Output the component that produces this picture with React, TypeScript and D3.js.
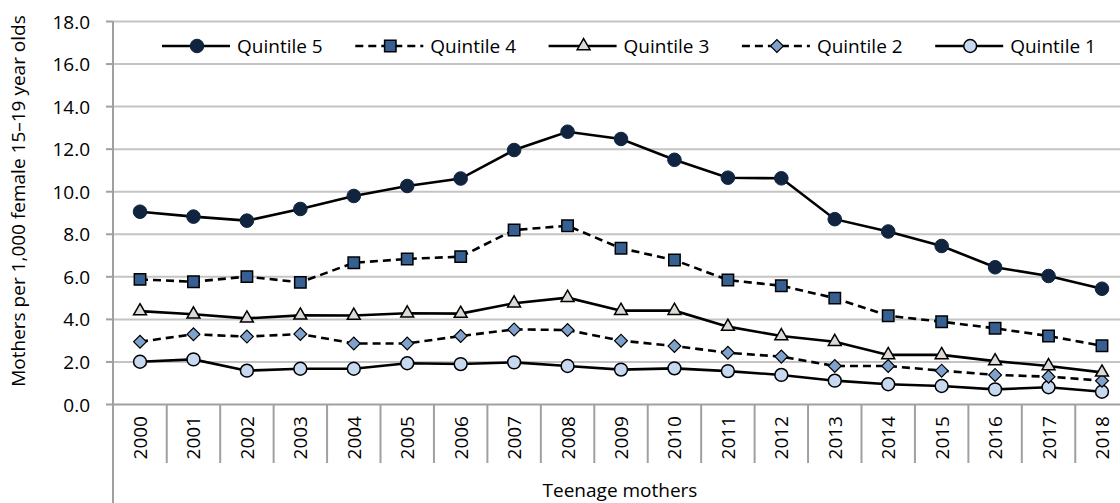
import React from 'react';
import * as d3 from 'd3';

const years = ['2000','2001','2002','2003','2004','2005','2006','2007','2008','2009','2010','2011','2012','2013','2014','2015','2016','2017','2018'];
const q5 = [9.06, 8.83, 8.64, 9.19, 9.80, 10.27, 10.62, 11.96, 12.82, 12.48, 11.5, 10.66, 10.63, 8.71, 8.13, 7.45, 6.45, 6.04, 5.44];
const q4 = [5.88, 5.77, 6.01, 5.74, 6.66, 6.84, 6.95, 8.20, 8.40, 7.34, 6.79, 5.85, 5.58, 5.0, 4.17, 3.89, 3.58, 3.22, 2.76];
const q3 = [4.39, 4.24, 4.05, 4.19, 4.18, 4.29, 4.27, 4.76, 5.02, 4.41, 4.41, 3.66, 3.22, 2.95, 2.33, 2.33, 2.04, 1.81, 1.51];
const q2 = [2.95, 3.30, 3.19, 3.31, 2.87, 2.87, 3.22, 3.53, 3.50, 3.0, 2.75, 2.43, 2.25, 1.81, 1.81, 1.59, 1.39, 1.31, 1.12];
const q1 = [2.01, 2.12, 1.59, 1.68, 1.68, 1.94, 1.90, 1.98, 1.81, 1.64, 1.70, 1.57, 1.39, 1.12, 0.95, 0.87, 0.71, 0.81, 0.60];
const yTicks = [0, 2, 4, 6, 8, 10, 12, 14, 16, 18];
const seriesNames = ['Quintile 5', 'Quintile 4', 'Quintile 3', 'Quintile 2', 'Quintile 1'];

const W = 1120, H = 503;
const FONT = '"Open Sans", "Noto Sans", sans-serif';
const FS = 19;

type Style = { values: number[]; dashed: boolean; symbol: d3.SymbolType; size: number; rot: number; fill: string; stroke: string; strokeW: number };

const styles: Style[] = [
  { values: q5, dashed: false, symbol: d3.symbolCircle, size: 145, rot: 0, fill: '#10243F', stroke: '#10243F', strokeW: 1 },
  { values: q4, dashed: true, symbol: d3.symbolSquare, size: 130, rot: 0, fill: '#376092', stroke: '#000', strokeW: 1.5 },
  { values: q3, dashed: false, symbol: d3.symbolTriangle, size: 72, rot: 0, fill: '#DDD9D4', stroke: '#000', strokeW: 1.5 },
  { values: q2, dashed: true, symbol: d3.symbolSquare, size: 82, rot: 45, fill: '#7FA2CD', stroke: '#000', strokeW: 1.2 },
  { values: q1, dashed: false, symbol: d3.symbolCircle, size: 130, rot: 0, fill: '#C6D9F1', stroke: '#000', strokeW: 1.5 },
];

export default function App() {
  const x = d3.scaleBand<string>().domain(years).range([113.3, 1128.7]).padding(0);
  const y = d3.scaleLinear().domain([0, 18]).range([404.5, 21.5]);
  const cx = (yr: string) => (x(yr) as number) + x.bandwidth() / 2;
  const line = d3.line<number>().x((_, i) => cx(years[i])).y((v) => y(v));
  const axisColor = '#A0A0A0';
  const gridColor = '#C4C4C4';

  return (
    <div style={{ position: 'absolute', left: 0, top: 0 }}>
      <svg width={W} height={H} style={{ display: 'block', background: '#fff', fontFamily: FONT }}>
        <rect x={0} y={0} width={W} height={H} fill="#fff" />
        {yTicks.filter((t) => t > 0).map((t) => (
          <line key={'g' + t} x1={113} x2={W} y1={y(t)} y2={y(t)} stroke={gridColor} strokeWidth={2} />
        ))}
        {yTicks.map((t) => (
          <g key={'yt' + t}>
            <line x1={106} x2={113} y1={y(t)} y2={y(t)} stroke={axisColor} strokeWidth={2} />
            <text x={90} y={y(t)} textAnchor="end" dominantBaseline="central" fontSize={FS} fill="#000">
              {t.toFixed(1)}
            </text>
          </g>
        ))}
        <line x1={113} x2={W} y1={y(0)} y2={y(0)} stroke={axisColor} strokeWidth={2} />
        {years.map((yr) => (
          <line key={'d' + yr} x1={(x(yr) as number) + x.bandwidth()} x2={(x(yr) as number) + x.bandwidth()} y1={y(0)} y2={463} stroke={axisColor} strokeWidth={2} />
        ))}
        <line x1={113} x2={113} y1={y(18)} y2={H} stroke={axisColor} strokeWidth={2} />
        {years.map((yr) => (
          <text key={'xl' + yr} transform={`translate(${cx(yr)},416) rotate(-90)`} textAnchor="end" dominantBaseline="central" fontSize={FS} fill="#000">
            {yr}
          </text>
        ))}
        <text transform="translate(18,201) rotate(-90)" textAnchor="middle" dominantBaseline="central" fontSize={FS} fill="#000">
          Mothers per 1,000 female 15–19 year olds
        </text>
        <text x={620} y={490} textAnchor="middle" dominantBaseline="central" fontSize={FS} fill="#000">
          Teenage mothers
        </text>
        {styles.slice().reverse().map((s, k) => (
          <g key={'s' + k}>
            <path d={line(s.values) || ''} fill="none" stroke="#000" strokeWidth={2.6} strokeDasharray={s.dashed ? '8,5' : undefined} />
            {s.values.map((v, i) => (
              <path key={i} d={d3.symbol().type(s.symbol).size(s.size)() || ''} transform={`translate(${cx(years[i])},${y(v)}) rotate(${s.rot})`} fill={s.fill} stroke={s.stroke} strokeWidth={s.strokeW} />
            ))}
          </g>
        ))}
        {styles.map((s, i) => {
          const x0 = 162 + i * 193.3;
          const ly = 46;
          return (
            <g key={'lg' + i}>
              <line x1={x0} x2={x0 + 68} y1={ly} y2={ly} stroke="#000" strokeWidth={2.6} strokeDasharray={s.dashed ? '8,5' : undefined} />
              <path d={d3.symbol().type(s.symbol).size(s.size)() || ''} transform={`translate(${x0 + 35},${ly}) rotate(${s.rot})`} fill={s.fill} stroke={s.stroke} strokeWidth={s.strokeW} />
              <text x={x0 + 75} y={ly} dominantBaseline="central" fontSize={FS} fill="#000">{seriesNames[i]}</text>
            </g>
          );
        })}
      </svg>
    </div>
  );
}
